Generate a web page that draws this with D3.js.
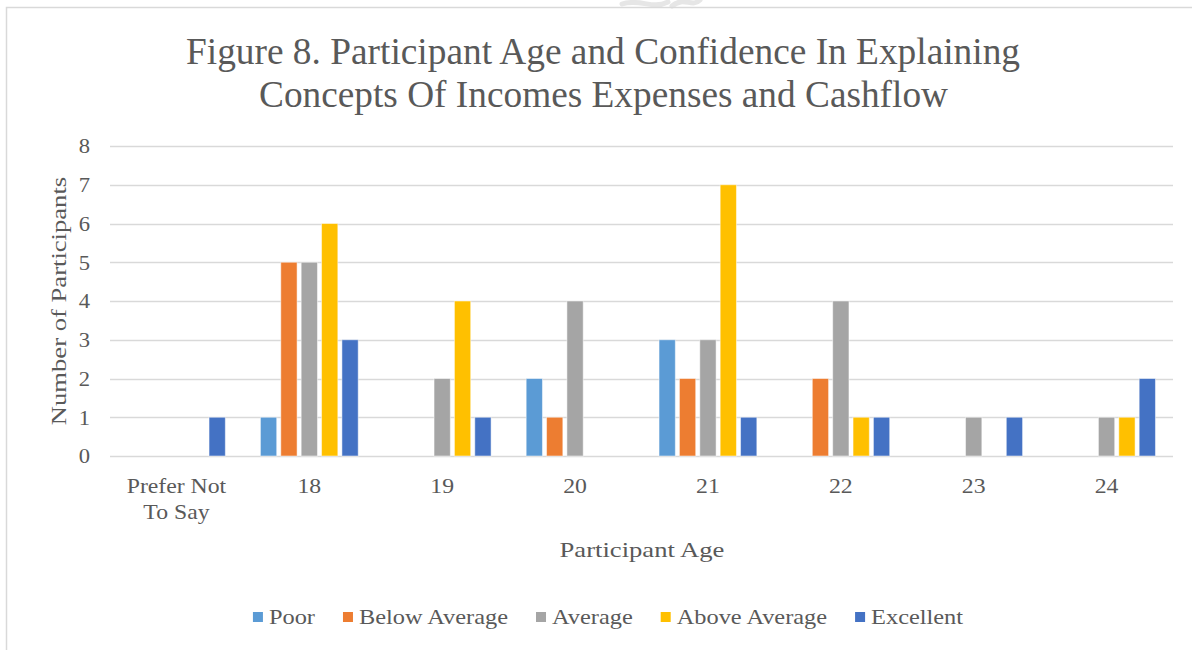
<!DOCTYPE html>
<html>
<head>
<meta charset="utf-8">
<script src="https://cdn.jsdelivr.net/npm/d3@7/dist/d3.min.js"></script>
<style>
  html, body { margin: 0; padding: 0; background: #fff; }
  svg { display: block; }
  text { font-family: "Liberation Serif", "Times New Roman", serif; fill: #595959; }
</style>
</head>
<body>
<svg id="chart" width="1192" height="650"></svg>
<script>
// Age groups along the x axis
const ages = ["Prefer Not To Say", "18", "19", "20", "21", "22", "23", "24"];
// Confidence ratings (one bar per rating in each age group)
const ratings = ["Poor", "Below Average", "Average", "Above Average", "Excellent"];
// Counts per rating, in the same order as ages
const poor         = [0, 1, 0, 2, 3, 0, 0, 0];
const belowAverage = [0, 5, 0, 1, 2, 2, 0, 0];
const average      = [0, 5, 2, 4, 3, 4, 1, 1];
const aboveAverage = [0, 6, 4, 0, 7, 1, 0, 1];
const excellent    = [1, 3, 1, 0, 1, 1, 1, 2];
const yTicks = [0, 1, 2, 3, 4, 5, 6, 7, 8];
const colors = ["#5B9BD5", "#ED7D31", "#A5A5A5", "#FFC000", "#4472C4"];

const seriesValues = [poor, belowAverage, average, aboveAverage, excellent];
const rows = ages.map((a, i) => ({ age: a, values: ratings.map((r, k) => ({ rating: r, value: seriesValues[k][i] })) }));

// the text face is set a little wider than its natural proportions
const WIDEN = 1.13, WIDEN_LEGEND = 1.16, WIDEN_TITLE = 1.21;
function widen(sel, factor) {
  sel.each(function () {
    const len = this.getComputedTextLength();
    d3.select(this).attr("textLength", len * factor).attr("lengthAdjust", "spacingAndGlyphs");
  });
}

const svg = d3.select("#chart");

// faint watermark fragment above the frame
svg.append("path")
  .attr("d", "M622,4 C640,-2 652,10 668,2 M672,6 C684,-4 692,8 700,0")
  .attr("fill", "none").attr("stroke", "#e6e6e6").attr("stroke-width", 5).attr("stroke-linecap", "round");

// chart frame
svg.append("rect")
  .attr("x", 6.5).attr("y", 7.5).attr("width", 1240).attr("height", 700)
  .attr("fill", "none").attr("stroke", "#d9d9d9").attr("stroke-width", 1.5);

const plot = { left: 110, right: 1173, top: 146, bottom: 456 };

const x0 = d3.scaleBand().domain(ages).range([plot.left, plot.right]).paddingInner(0).paddingOuter(0);
const x1 = d3.scaleBand().domain(ratings).range([15.5, x0.bandwidth() - 15.5]).paddingInner(0.2).paddingOuter(0.1);
const y = d3.scaleLinear().domain([0, 8]).range([plot.bottom, plot.top]);

// gridlines
svg.append("g")
  .selectAll("line").data(yTicks).join("line")
  .attr("x1", plot.left).attr("x2", plot.right)
  .attr("y1", d => Math.round(y(d)) + 0.5).attr("y2", d => Math.round(y(d)) + 0.5)
  .attr("stroke", "#d9d9d9").attr("stroke-width", 1.5);

// y tick labels
const yAxis = d3.axisLeft(y).tickValues(yTicks).tickSize(0).tickPadding(0).tickFormat(d3.format("d"));
const gy = svg.append("g").attr("transform", `translate(${plot.left - 20},0)`).call(yAxis);
gy.select(".domain").remove();
gy.selectAll("text").attr("font-size", 20).attr("fill", "#595959")
  .attr("font-family", "'Liberation Serif', 'Times New Roman', serif").attr("dy", "0.34em");
widen(gy.selectAll("text"), WIDEN);

// bars
const groups = svg.append("g").selectAll("g").data(rows).join("g")
  .attr("transform", d => `translate(${x0(d.age)},0)`);
groups.selectAll("rect").data(d => d.values.filter(v => v.value > 0)).join("rect")
  .attr("x", d => x1(d.rating))
  .attr("width", x1.bandwidth())
  .attr("y", d => y(d.value))
  .attr("height", d => y(0) - y(d.value))
  .attr("fill", d => colors[ratings.indexOf(d.rating)])
  .attr("stroke", "#ffffff").attr("stroke-opacity", 0.5).attr("stroke-width", 1);

// x tick labels (wrapped)
const xAxis = d3.axisBottom(x0).tickSize(0).tickPadding(0);
const gx = svg.append("g").attr("transform", `translate(0,${plot.bottom})`).call(xAxis);
gx.select(".domain").remove();
gx.selectAll("text").each(function (d) {
  const t = d3.select(this);
  t.text(null).attr("y", 0).attr("dy", null).attr("text-anchor", "start")
    .attr("font-size", 21).attr("fill", "#595959")
    .attr("font-family", "'Liberation Serif', 'Times New Roman', serif");
  const lines = d === "Prefer Not To Say" ? ["Prefer Not", "To Say"] : [d];
  lines.forEach((ln, i) => {
    const ts = t.append("tspan").attr("y", 37 + i * 26).text(ln);
    const w = ts.node().getComputedTextLength() * WIDEN;
    ts.attr("x", -w / 2).attr("textLength", w).attr("lengthAdjust", "spacingAndGlyphs");
  });
});

// title
const titleLines = [
  { text: "Figure 8. Participant Age and Confidence In Explaining", x: 186, y: 64, w: 834 },
  { text: "Concepts Of Incomes Expenses and Cashflow", x: 259, y: 107, w: 689 }
];
svg.append("g").selectAll("text").data(titleLines).join("text")
  .attr("x", d => d.x).attr("y", d => d.y).attr("font-size", 37)
  .attr("textLength", d => d.w).attr("lengthAdjust", "spacingAndGlyphs")
  .text(d => d.text);

// axis titles
const yTitle = svg.append("text").attr("font-size", 22).text("Number of Participants");
{
  const w = yTitle.node().getComputedTextLength() * WIDEN_TITLE;
  yTitle.attr("transform", "translate(66,301) rotate(-90)").attr("x", -w / 2)
    .attr("textLength", w).attr("lengthAdjust", "spacingAndGlyphs");
}
const xTitle = svg.append("text").attr("font-size", 22).attr("y", 557).text("Participant Age");
{
  const w = xTitle.node().getComputedTextLength() * WIDEN_TITLE;
  xTitle.attr("x", 642 - w / 2).attr("textLength", w).attr("lengthAdjust", "spacingAndGlyphs");
}

// legend
const legend = svg.append("g");
const items = legend.selectAll("g").data(ratings).join("g");
items.append("rect").attr("width", 10).attr("height", 10).attr("y", -5)
  .attr("fill", (d, i) => colors[i]);
items.append("text").attr("x", 16).attr("dy", "0.34em").attr("font-size", 21).text(d => d);
widen(items.selectAll("text"), WIDEN_LEGEND);
let cx = 0;
items.each(function () {
  const g = d3.select(this);
  g.attr("transform", `translate(${cx},0)`);
  cx += 16 + (+g.select("text").attr("textLength")) + 28;
});
const total = cx - 28;
legend.attr("transform", `translate(${608 - total / 2},617)`);
</script>
</body>
</html>
